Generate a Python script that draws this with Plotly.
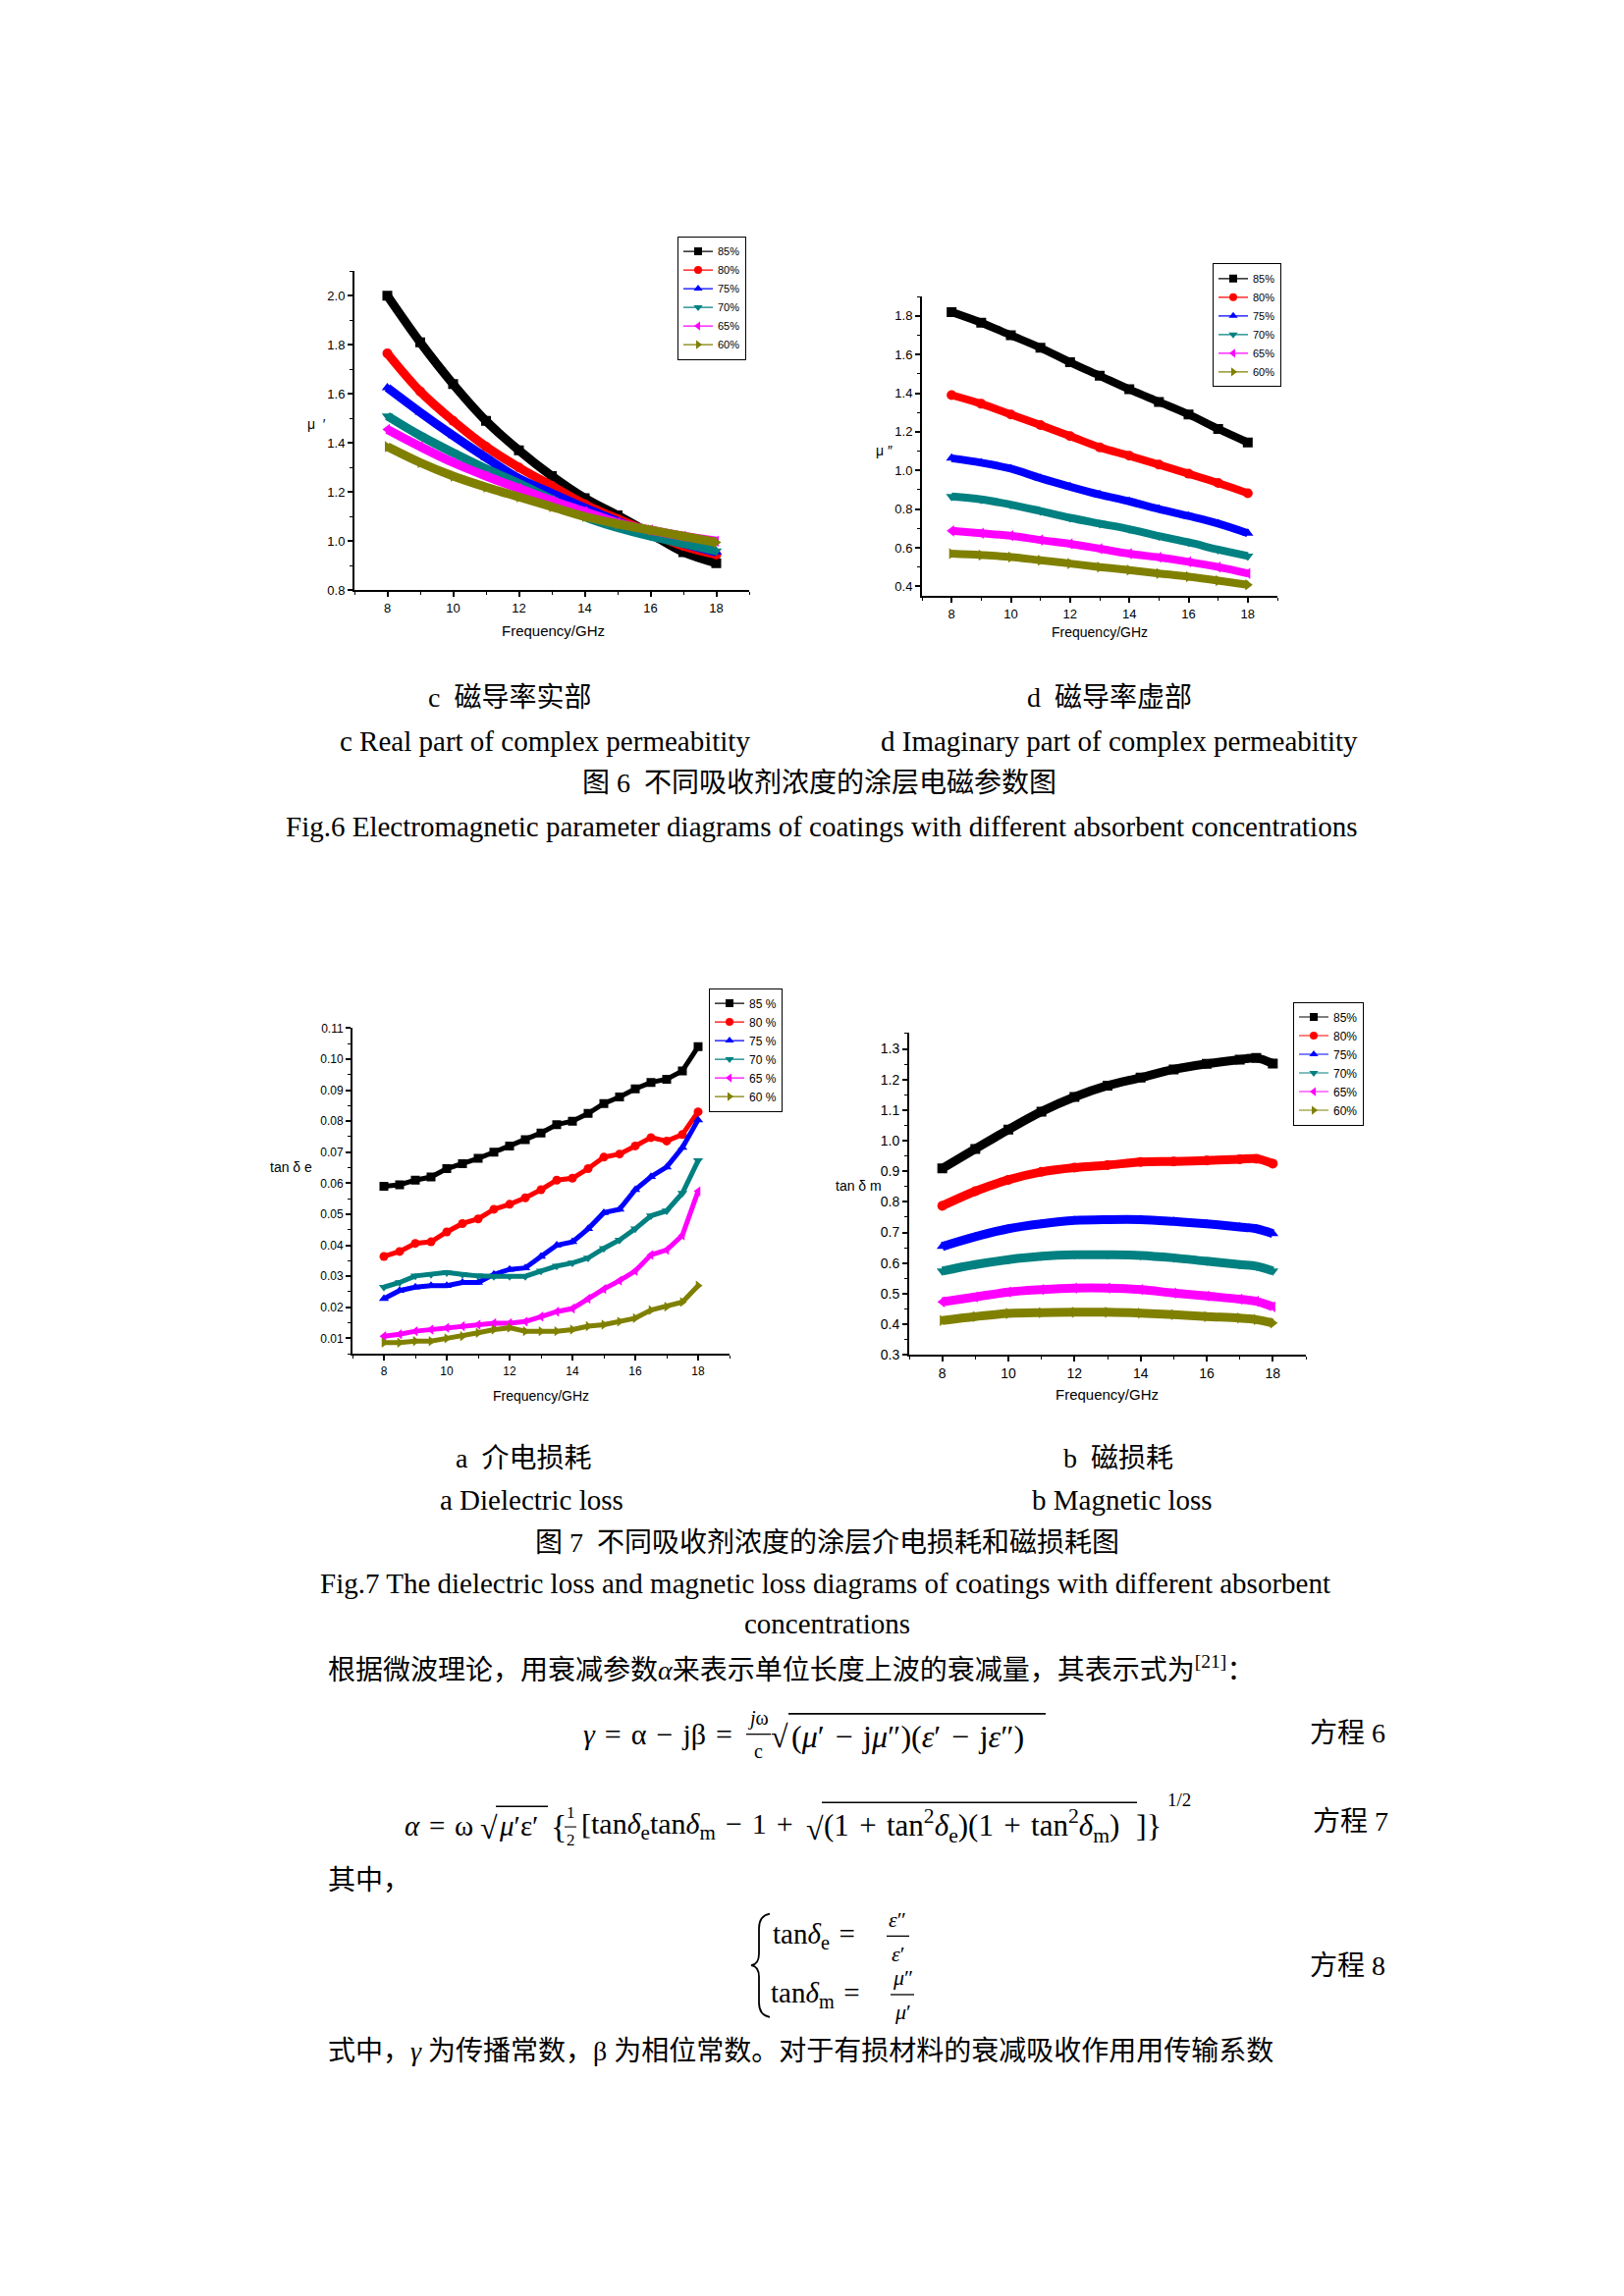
import plotly.graph_objects as go

W, H = 1654, 2339

# ---------------- data ----------------
SERIES = ["85%", "80%", "75%", "70%", "65%", "60%"]
SERIES_A = ["85 %", "80 %", "75 %", "70 %", "65 %", "60 %"]
COLORS = ["#000000", "#FF0000", "#0000FF", "#008080", "#FF00FF", "#808000"]
SYMBOLS = ["square", "circle", "triangle-up", "triangle-down", "triangle-left", "triangle-right"]

# Fig.6 c: real part of permeability
FREQ_C = [8, 9, 10, 11, 12, 13, 14, 15, 16, 17, 18]
MU_REAL_85 = [2.00, 1.81, 1.64, 1.49, 1.37, 1.265, 1.175, 1.105, 1.03, 0.955, 0.91]
MU_REAL_80 = [1.765, 1.61, 1.49, 1.385, 1.30, 1.225, 1.15, 1.09, 1.035, 0.98, 0.945]
MU_REAL_75 = [1.625, 1.525, 1.43, 1.34, 1.255, 1.195, 1.135, 1.08, 1.03, 0.99, 0.955]
MU_REAL_70 = [1.51, 1.43, 1.36, 1.295, 1.235, 1.17, 1.10, 1.055, 1.02, 0.99, 0.96]
MU_REAL_65 = [1.455, 1.385, 1.32, 1.265, 1.215, 1.165, 1.12, 1.075, 1.045, 1.02, 1.0]
MU_REAL_60 = [1.385, 1.32, 1.265, 1.22, 1.18, 1.14, 1.10, 1.07, 1.045, 1.02, 0.995]

# Fig.6 d: imaginary part of permeability
FREQ_D = [8, 9, 10, 11, 12, 13, 14, 15, 16, 17, 18]
MU_IMAG_85 = [1.82, 1.765, 1.70, 1.635, 1.56, 1.49, 1.42, 1.355, 1.29, 1.215, 1.145]
MU_IMAG_80 = [1.39, 1.345, 1.29, 1.235, 1.178, 1.12, 1.076, 1.03, 0.983, 0.935, 0.882]
MU_IMAG_75 = [1.063, 1.04, 1.009, 0.96, 0.916, 0.875, 0.84, 0.80, 0.764, 0.725, 0.675]
MU_IMAG_70 = [0.865, 0.85, 0.823, 0.79, 0.755, 0.725, 0.696, 0.66, 0.628, 0.59, 0.557]
MU_IMAG_65 = [0.687, 0.675, 0.662, 0.64, 0.62, 0.595, 0.569, 0.55, 0.527, 0.50, 0.467]
MU_IMAG_60 = [0.569, 0.562, 0.552, 0.535, 0.518, 0.50, 0.484, 0.467, 0.45, 0.43, 0.408]

# Fig.7 a: dielectric loss tangent
FREQ_A = [8, 8.5, 9, 9.5, 10, 10.5, 11, 11.5, 12, 12.5, 13, 13.5, 14, 14.5, 15, 15.5, 16, 16.5, 17, 17.5, 18]
TAN_E_85 = [0.059, 0.0595, 0.061, 0.062, 0.0647, 0.0663, 0.068, 0.070, 0.072, 0.074, 0.0762, 0.0789, 0.080,
            0.0825, 0.0857, 0.0878, 0.0904, 0.0925, 0.0935, 0.0962, 0.104]
TAN_E_80 = [0.0364, 0.038, 0.0406, 0.0411, 0.0443, 0.047, 0.0485, 0.0516, 0.0532, 0.0553, 0.0579, 0.061, 0.0616,
            0.0647, 0.0684, 0.0694, 0.072, 0.0747, 0.0736, 0.0757, 0.083]
TAN_E_75 = [0.0228, 0.0254, 0.0265, 0.027, 0.027, 0.028, 0.028, 0.0306, 0.0322, 0.0327, 0.0364, 0.040, 0.0411,
            0.0453, 0.0505, 0.0516, 0.0579, 0.0621, 0.0652, 0.0715, 0.0804]
TAN_E_70 = [0.0265, 0.028, 0.0301, 0.0306, 0.0312, 0.0306, 0.0301, 0.030, 0.030, 0.030, 0.0317, 0.0333, 0.0343,
            0.0359, 0.039, 0.0417, 0.0453, 0.0495, 0.0511, 0.0568, 0.0673]
TAN_E_65 = [0.0107, 0.0113, 0.0123, 0.0128, 0.0134, 0.0139, 0.0144, 0.0149, 0.0149, 0.0154, 0.017, 0.0186, 0.0196,
            0.0228, 0.0259, 0.0286, 0.0317, 0.0369, 0.0385, 0.0432, 0.0574]
TAN_E_60 = [0.0086, 0.0086, 0.0091, 0.0091, 0.010, 0.0107, 0.0118, 0.0128, 0.0134, 0.0123, 0.0123, 0.0123, 0.0128,
            0.0139, 0.0144, 0.0154, 0.0165, 0.0191, 0.0202, 0.0217, 0.027]

# Fig.7 b: magnetic loss tangent
FREQ_B = [8, 9, 10, 11, 12, 13, 14, 15, 16, 17, 17.5, 18]
TAN_M_85 = [0.909, 0.973, 1.036, 1.095, 1.143, 1.18, 1.206, 1.233, 1.251, 1.265, 1.27, 1.252]
TAN_M_80 = [0.787, 0.835, 0.872, 0.898, 0.912, 0.92, 0.93, 0.932, 0.935, 0.939, 0.941, 0.925]
TAN_M_75 = [0.654, 0.686, 0.712, 0.728, 0.739, 0.742, 0.742, 0.736, 0.728, 0.718, 0.712, 0.696]
TAN_M_70 = [0.574, 0.595, 0.611, 0.622, 0.627, 0.627, 0.625, 0.617, 0.606, 0.595, 0.59, 0.574]
TAN_M_65 = [0.473, 0.489, 0.505, 0.513, 0.518, 0.518, 0.513, 0.502, 0.492, 0.482, 0.475, 0.457]
TAN_M_60 = [0.412, 0.425, 0.435, 0.438, 0.439, 0.439, 0.436, 0.431, 0.425, 0.42, 0.415, 0.404]

# ---------------- helpers ----------------
def px(x):
    return x / W


def py(y):
    return 1 - y / H


SERIF = "Liberation Serif, Noto Sans CJK SC"
SANS = "Liberation Sans, Arial"
S3 = "\u2004"   # three-per-em space

fig = go.Figure()
annotations = []
shapes = []


def text(x, y, s, size=29, xanchor="center", family=SERIF, yanchor="middle"):
    annotations.append(dict(x=px(x), y=py(y), xref="paper", yref="paper", text=s, showarrow=False,
                            xanchor=xanchor, yanchor=yanchor, borderpad=0,
                            font=dict(size=size, family=family, color="black")))


def hline(x0, x1, y, w=1.6):
    shapes.append(dict(type="line", xref="paper", yref="paper", x0=px(x0), x1=px(x1), y0=py(y), y1=py(y),
                       line=dict(color="black", width=w)))


def P(x, y):
    return f"{px(x):.5f},{py(y):.5f}"


charts = [
    ("", FREQ_C, [MU_REAL_85, MU_REAL_80, MU_REAL_75, MU_REAL_70, MU_REAL_65, MU_REAL_60], "legend", 9, 10,
     "spline", SERIES),
    ("2", FREQ_D, [MU_IMAG_85, MU_IMAG_80, MU_IMAG_75, MU_IMAG_70, MU_IMAG_65, MU_IMAG_60], "legend2", 8, 10,
     "spline", SERIES),
    ("3", FREQ_A, [TAN_E_85, TAN_E_80, TAN_E_75, TAN_E_70, TAN_E_65, TAN_E_60], "legend3", 5, 9,
     "linear", SERIES_A),
    ("4", FREQ_B, [TAN_M_85, TAN_M_80, TAN_M_75, TAN_M_70, TAN_M_65, TAN_M_60], "legend4", 9, 10,
     "spline", SERIES),
]

for suf, xs, series, leg, lw, ms, shape, names in charts:
    xa, ya = "x" + suf, "y" + suf
    for name, col, sym, ys in zip(names, COLORS, SYMBOLS, series):
        fig.add_trace(go.Scatter(x=xs, y=ys, mode="lines+markers", xaxis=xa, yaxis=ya, showlegend=False,
                                 line=dict(color=col, width=lw, shape=shape),
                                 marker=dict(symbol=sym, size=ms, color=col), hoverinfo="skip"))
    for name, col, sym in zip(names, COLORS, SYMBOLS):
        fig.add_trace(go.Scatter(x=[None], y=[None], mode="lines+markers", xaxis=xa, yaxis=ya, name=name,
                                 legend=leg, line=dict(color=col, width=1.2),
                                 marker=dict(symbol=sym, size=8, color=col)))


# ---------------- axes ----------------
def xaxis(domain, anchor, fs):
    return dict(domain=domain, anchor=anchor, range=[7, 19], tick0=8, dtick=2, showline=True, linecolor="black",
                linewidth=2, ticks="outside", ticklen=5, tickwidth=1.5, tickcolor="black", showgrid=False,
                zeroline=False, mirror=False, tickfont=dict(family=SANS, size=fs, color="black"),
                minor=dict(ticks="outside", dtick=1, ticklen=3, tickwidth=1.2, tickcolor="black"))


def yaxis(domain, anchor, rng, tick0, dtick, minor, fmt, fs):
    return dict(domain=domain, anchor=anchor, range=rng, tick0=tick0, dtick=dtick, tickformat=fmt, showline=True,
                linecolor="black", linewidth=2, ticks="outside", ticklen=5, tickwidth=1.5, tickcolor="black",
                showgrid=False, zeroline=False, mirror=False, tickfont=dict(family=SANS, size=fs, color="black"),
                minor=dict(ticks="outside", dtick=minor, ticklen=3, tickwidth=1.2, tickcolor="black"))


layout_axes = dict(
    xaxis=xaxis([px(353), px(755)], "y", 13),
    yaxis=yaxis([py(590), py(263)], "x", [0.8, 2.1], 0.8, 0.2, 0.1, ".1f", 13),
    xaxis2=xaxis([px(931), px(1293)], "y2", 13),
    yaxis2=yaxis([py(596), py(289)], "x2", [0.35, 1.9], 0.4, 0.2, 0.1, ".1f", 13),
    xaxis3=xaxis([px(351), px(735)], "y3", 12),
    yaxis3=yaxis([py(1373), py(1039)], "x3", [0.005, 0.11], 0.01, 0.01, 0.005, ".2f", 12),
    xaxis4=xaxis([px(918), px(1322)], "y4", 14),
    yaxis4=yaxis([py(1374), py(1044)], "x4", [0.3, 1.352], 0.3, 0.1, 0.05, ".1f", 14),
)


def legend(x_left, y_top, fs=11):
    return dict(x=px(x_left), y=py(y_top), xref="paper", yref="paper", xanchor="left", yanchor="top",
                bgcolor="white", bordercolor="black", borderwidth=1, font=dict(family=SANS, size=fs, color="black"),
                itemwidth=30, tracegroupgap=0, traceorder="normal")


# ---------------- chart labels ----------------
text(555, 632, "Frequency/GHz", 15, family=SANS)
text(1112, 633, "Frequency/GHz", 14, family=SANS)
text(543, 1416, "Frequency/GHz", 14, family=SANS)
text(1119, 1415, "Frequency/GHz", 15, family=SANS)
text(314, 420, "μ  ′", 14, family=SANS)
text(892, 447, "μ ″", 14, family=SANS)
text(288, 1182, "tan δ e", 14, family=SANS)
text(866, 1201, "tan δ m", 14, family=SANS)

# ---------------- captions ----------------
text(511, 700, "c  磁导率实部", 28)
text(1122, 700, "d  磁导率虚部", 28)
text(547, 745, "c Real part of complex permeabitity", 29)
text(1132, 745, "d Imaginary part of complex permeabitity", 29)
text(826, 788, "图 6  不同吸收剂浓度的涂层电磁参数图", 28)
text(828, 832, "Fig.6 Electromagnetic parameter diagrams of coatings with different absorbent concentrations", 29)
text(525, 1480, "a  介电损耗", 28)
text(1131, 1480, "b  磁损耗", 28)
text(533, 1523, "a Dielectric loss", 29)
text(1135, 1523, "b Magnetic loss", 29)
text(834, 1567, "图 7  不同吸收剂浓度的涂层介电损耗和磁损耗图", 28)
text(832, 1608, "Fig.7 The dielectric loss and magnetic loss diagrams of coatings with different absorbent", 29)
text(834, 1650, "concentrations", 29)

# ---------------- body text and equations ----------------
text(325, 1695, "根据微波理论，用衰减参数<i>α</i>来表示单位长度上波的衰减量，其表示式为<sup>[21]</sup>：", 28,
     xanchor="left")

# equation 6
text(585, 1763, f"<i>γ</i>{S3}={S3}α{S3}−{S3}jβ{S3}=", 30, xanchor="left")
text(764, 1747, "<i>j</i>ω", 20)
text(764, 1780, "c", 20)
hline(752, 777, 1763, 1.3)
text(776, 1765, "√", 32, xanchor="left")
text(797, 1765, f"(<i>μ</i>′{S3}−{S3}j<i>μ</i>″)(<i>ε</i>′{S3}−{S3}j<i>ε</i>″)", 32, xanchor="left")
hline(795, 1057, 1742, 1.6)
text(1325, 1762, "方程 6", 28, xanchor="left")

# equation 7
text(403, 1857, f"<i>α</i>{S3}={S3}ω", 29, xanchor="left")
text(480, 1859, "√", 32, xanchor="left")
text(499, 1857, "<i>μ</i>′ε′", 29, xanchor="left")
hline(497, 550, 1837, 1.4)
text(552, 1857, "{", 34, xanchor="left")
text(573, 1843, "1", 17)
text(573, 1872, "2", 17)
hline(567, 579, 1858, 1.1)
text(583, 1857, f"[tan<i>δ</i><sub>e</sub>tan<i>δ</i><sub>m</sub>{S3}−{S3}1{S3}+", 30, xanchor="left")
text(812, 1860, "√", 32, xanchor="left")
text(830, 1857, f"(1{S3}+{S3}tan<sup>2</sup><i>δ</i><sub>e</sub>)(1{S3}+{S3}tan<sup>2</sup><i>δ</i><sub>m</sub>)", 31,
     xanchor="left")
hline(829, 1150, 1833, 1.4)
text(1148, 1857, "]}", 32, xanchor="left")
text(1180, 1830, "1/2", 19, xanchor="left")
text(1328, 1852, "方程 7", 28, xanchor="left")

text(325, 1913, "其中，", 28, xanchor="left")

# equation 8 (brace drawn as a thin path)
shapes.append(dict(type="path", xref="paper", yref="paper",
                   path=(f"M {P(776, 1947)} Q {P(765, 1949)} {P(765, 1962)} L {P(765, 1988)} "
                         f"Q {P(765, 1999)} {P(757, 2000)} Q {P(765, 2001)} {P(765, 2012)} "
                         f"L {P(765, 2038)} Q {P(765, 2051)} {P(776, 2053)}"),
                   line=dict(color="black", width=1.8)))
text(778, 1970, f"tan<i>δ</i><sub>e</sub>{S3}=", 29, xanchor="left")
text(906, 1953, "<i>ε</i>″", 22)
text(906, 1988, "<i>ε</i>′", 22)
hline(895, 918, 1970, 1.3)
text(776, 2030, f"tan<i>δ</i><sub>m</sub>{S3}=", 29, xanchor="left")
text(911, 2012, "<i>μ</i>″", 22)
text(911, 2048, "<i>μ</i>′", 22)
hline(899, 923, 2030, 1.3)
text(1325, 2000, "方程 8", 28, xanchor="left")

text(325, 2088, "式中，<i>γ</i> 为传播常数，β 为相位常数。对于有损材料的衰减吸收作用用传输系数", 28, xanchor="left")

fig.update_layout(
    width=W, height=H, margin=dict(l=0, r=0, t=0, b=0), paper_bgcolor="white", plot_bgcolor="white",
    showlegend=True,
    legend=legend(682, 227),
    legend2=legend(1227, 255),
    legend3=legend(714, 998, 12),
    legend4=legend(1309, 1012, 12),
    annotations=annotations, shapes=shapes,
    **layout_axes,
)

fig.write_html("out.html")
